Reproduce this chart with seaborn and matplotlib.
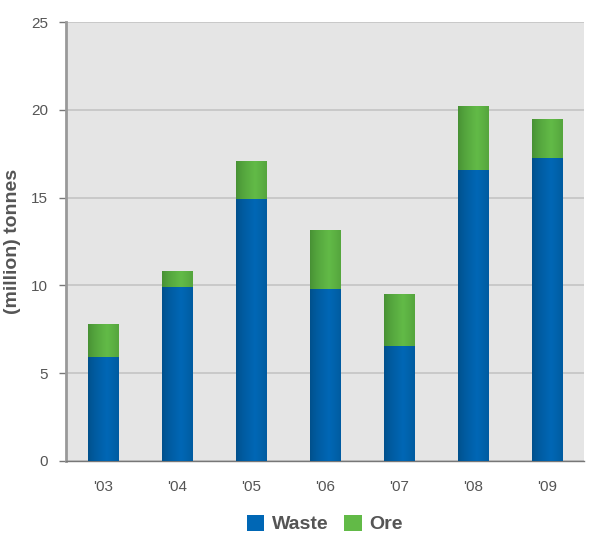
import numpy as np
import pandas as pd
import matplotlib
matplotlib.use("Agg")
import matplotlib.pyplot as plt
from matplotlib.colors import LinearSegmentedColormap
from matplotlib.patches import Patch
import seaborn as sns

years = ["'03", "'04", "'05", "'06", "'07", "'08", "'09"]
waste = [5.9, 9.9, 14.9, 9.8, 6.55, 16.6, 17.25]
ore = [1.9, 0.9, 2.2, 3.35, 2.95, 3.6, 2.25]

df = pd.DataFrame({"year": years, "waste": waste, "ore": ore})
df["total"] = df["waste"] + df["ore"]

sns.set_theme(style="white")
plt.rcParams["font.family"] = ["Liberation Sans Narrow", "Liberation Sans", "DejaVu Sans"]

TEXT = "#555555"
BLUE_MID, BLUE_EDGE = "#0067b5", "#004f8a"
GREEN_MID, GREEN_EDGE = "#62ba47", "#468f33"

fig = plt.figure(figsize=(5.89, 5.36), dpi=100)
ax = fig.add_axes([66 / 589, 1 - 461 / 536, (584 - 66) / 589, (461 - 22) / 536])
ax.set_facecolor("#e5e5e5")

sns.barplot(data=df, x="year", y="total", color=GREEN_MID, width=0.41,
            saturation=1, ax=ax, zorder=3)
n_ore = len(ax.patches)
sns.barplot(data=df, x="year", y="waste", color=BLUE_MID, width=0.41,
            saturation=1, ax=ax, zorder=3)

# horizontal shading across each bar: darker edges, lighter centre
pos = np.linspace(0, 1, 100)
shade = np.clip(1 - np.abs(pos - 0.62) / 0.62, 0, 1) ** 0.7
shade = shade.reshape(1, -1)
cmap_b = LinearSegmentedColormap.from_list("b", [BLUE_EDGE, BLUE_MID])
cmap_g = LinearSegmentedColormap.from_list("g", [GREEN_EDGE, GREEN_MID])
for i, p in enumerate(list(ax.patches)):
    x0, y0 = p.get_x(), p.get_y()
    w, h = p.get_width(), p.get_height()
    cm = cmap_g if i < n_ore else cmap_b
    im = ax.imshow(shade, cmap=cm, aspect="auto", extent=[x0, x0 + w, y0, y0 + h],
                   zorder=p.get_zorder() + 0.1 + (1 if i >= n_ore else 0),
                   interpolation="bicubic")
    im.set_clip_path(p)
    p.set_edgecolor("none")

ax.set_xlim(-0.5, 6.5)
ax.set_ylim(0, 25)
ax.set_yticks([0, 5, 10, 15, 20, 25])
ax.yaxis.grid(True, color="#c4c4c4", linewidth=1.2, zorder=0)
ax.set_axisbelow(True)

ax.set_xticks(range(len(years)))
ax.set_xticklabels(years)
ax.set_xticks(np.arange(-0.5, 7, 1), minor=True)
ax.tick_params(axis="x", which="major", length=0, pad=14, labelsize=11, labelcolor=TEXT)
ax.tick_params(axis="x", which="minor", length=5, width=1, color="#777777", direction="out")
ax.tick_params(axis="y", length=5, width=1, color="#777777", direction="out",
               pad=8, labelsize=11, labelcolor=TEXT, left=True)

for s in ["top", "right"]:
    ax.spines[s].set_visible(False)
ax.spines["left"].set_color("#999999")
ax.spines["left"].set_linewidth(2)
ax.spines["bottom"].set_color("#777777")
ax.spines["bottom"].set_linewidth(1)

ax.set_xlabel("")
ax.set_ylabel("(million) tonnes", fontsize=14, fontweight="bold", color=TEXT)
ax.yaxis.set_label_coords((21 - 66) / 518, 0.5)

handles = [Patch(facecolor=BLUE_MID, edgecolor="none", label="Waste"),
           Patch(facecolor=GREEN_MID, edgecolor="none", label="Ore")]
fig.legend(handles=handles, loc="center", bbox_to_anchor=(325 / 589, 1 - 524 / 536),
           ncol=2, frameon=False, handlelength=0.9, handleheight=0.9,
           handletextpad=0.4, columnspacing=0.8,
           prop={"size": 14, "weight": "bold"}, labelcolor=TEXT)

fig.savefig("out.png", dpi=100, facecolor="white")
